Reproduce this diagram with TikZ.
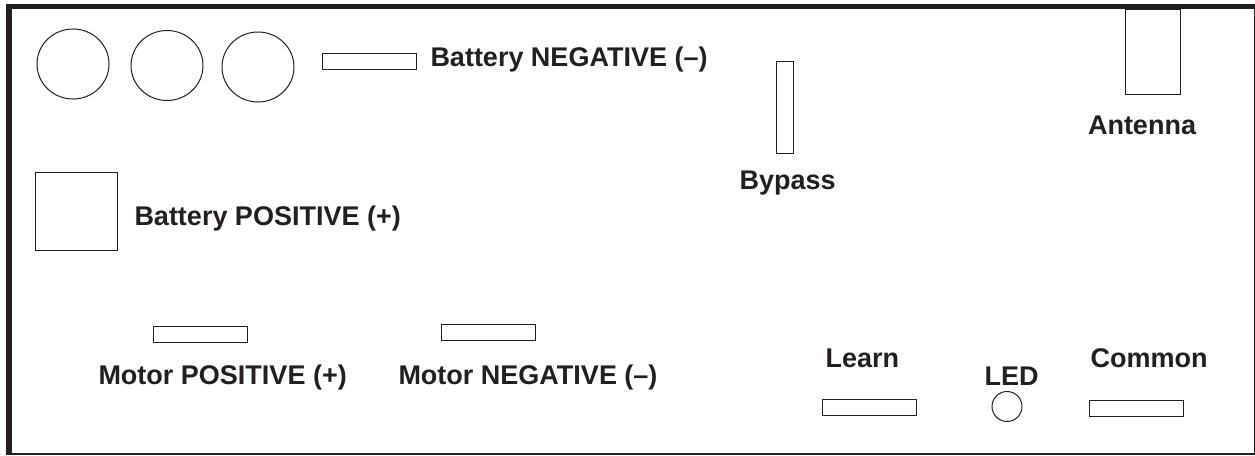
\documentclass[tikz,border=0pt]{standalone}
\usepackage{fontspec}
\setmainfont{Liberation Sans}
\usetikzlibrary{shapes.geometric}
\definecolor{ink}{HTML}{231F20}
\tikzset{
  x=1pt,y=-1pt,
  part/.style={draw=ink,line width=1pt,fill=white,rectangle,inner sep=0pt,outer sep=0pt,minimum width=#1},
  slot/.style={part=94pt,minimum height=16pt},
  hole/.style={draw=ink,line width=1pt,fill=white,ellipse,inner sep=0pt,outer sep=0pt},
  lbl/.style={anchor=base west,inner sep=0pt,outer sep=0pt,text=ink,font=\fontsize{27}{32}\selectfont\bfseries}
}
\begin{document}
\begin{tikzpicture}
\useasboundingbox (0,0) rectangle (1255,455);
% frame
\fill[white] (0,0) rectangle (1255,455);
\fill[ink] (6,4) rectangle (1255,9);
\fill[ink] (6,4) rectangle (12,455);
\fill[ink] (6,453) rectangle (1255,455);
\fill[ink] (1253.5,4) rectangle (1255,455);
% parts
\node[hole,minimum width=72pt,minimum height=70pt] (c1) at (73,64) {};
\node[hole,minimum width=72pt,minimum height=70pt] (c2) at (167,65.5) {};
\node[hole,minimum width=72pt,minimum height=70pt] (c3) at (258,67) {};
\node[slot] (bneg) at (369,61) {};
\node[part=82pt,minimum height=78pt] (bpos) at (76.5,211) {};
\node[part=17pt,minimum height=92pt] (byp) at (784.5,107) {};
\node[part=55pt,minimum height=85pt] (ant) at (1152.5,51.5) {};
\node[slot] (mpos) at (200,334) {};
\node[slot] (mneg) at (488,332) {};
\node[slot] (learn) at (869,407.5) {};
\node[hole,minimum width=30pt,minimum height=30pt] (led) at (1007,406.5) {};
\node[slot] (comm) at (1136,408) {};
% labels
\node[lbl] (tbneg) at (430.5,66) {Battery NEGATIVE (–)};
\node[lbl] (tbpos) at (134.5,225) {Battery POSITIVE (+)};
\node[lbl] (tbyp) at (739.5,189) {Bypass};
\node[lbl] (tant) at (1088,134) {Antenna};
\node[lbl] (tmpos) at (98.5,384.5) {Motor POSITIVE (+)};
\node[lbl] (tmneg) at (398.5,384.5) {Motor NEGATIVE (–)};
\node[lbl] (tlearn) at (825.5,367) {Learn};
\node[lbl] (tled) at (984.5,385) {LED};
\node[lbl] (tcomm) at (1090.5,367) {Common};
\end{tikzpicture}
\end{document}
